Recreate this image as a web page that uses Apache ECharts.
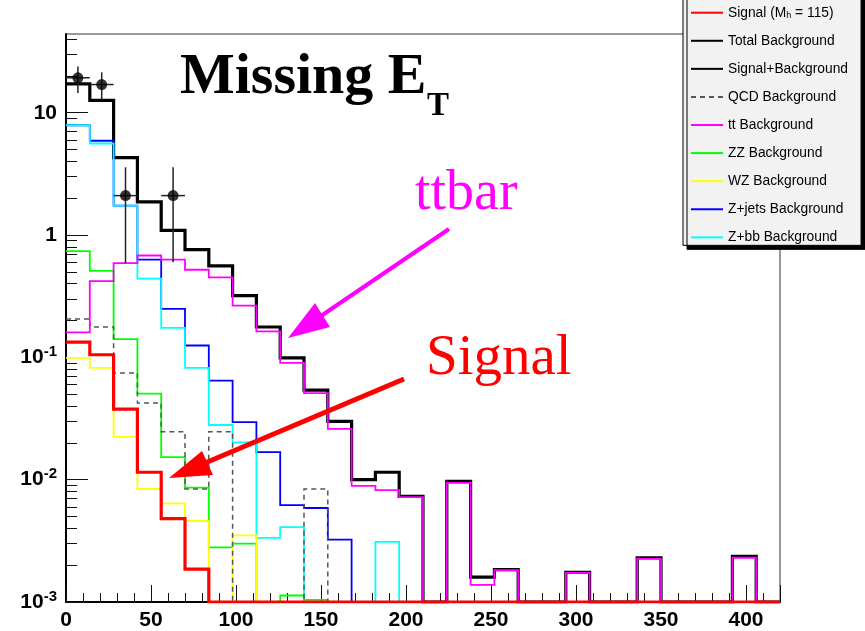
<!DOCTYPE html>
<html><head><meta charset="utf-8">
<script src="https://cdn.jsdelivr.net/npm/echarts@6/dist/echarts.min.js"></script>
<style>html,body{margin:0;padding:0;background:#fff}#c{width:865px;height:631px}</style>
</head><body><div id="c"></div>
<script>
// ---------- data ----------
const xMin = 0, xMax = 420, nBins = 30;
const yMin = 0.001, yMax = 44;
const xTickValues = [0, 50, 100, 150, 200, 250, 300, 350, 400];
const yTickValues = [0.001, 0.01, 0.1, 1, 10];
const yTickLabels = ['10^-3', '10^-2', '10^-1', '1', '10'];

const seriesNames = ['Signal (Mh = 115)', 'Total Background', 'Signal+Background', 'QCD Background',
  'tt Background', 'ZZ Background', 'WZ Background', 'Z+jets Background', 'Z+bb Background'];

const signal = [0.133, 0.105, 0.0378, 0.0115, 0.0048, 0.00186, 0, 0, 0, 0, 0, 0, 0, 0, 0, 0, 0, 0, 0, 0, 0, 0, 0, 0, 0, 0, 0, 0, 0, 0];
const totalBkg = [17.2, 12.6, 4.3, 1.87, 1.09, 0.76, 0.56, 0.32, 0.177, 0.099, 0.054, 0.030, 0.0100, 0.0115, 0.0073, 0, 0.0097, 0.0016, 0.00184, 0, 0, 0.00175, 0, 0, 0.0023, 0, 0, 0, 0.00236, 0];
const sigPlusBkg = [17.3, 12.7, 4.3, 1.88, 1.09, 0.76, 0.56, 0.32, 0.177, 0.099, 0.054, 0.030, 0.0100, 0.0115, 0.0073, 0, 0.0097, 0.0016, 0.00184, 0, 0, 0.00175, 0, 0, 0.0023, 0, 0, 0, 0.00236, 0];
const qcd = [0.206, 0.177, 0.0745, 0.0424, 0.0247, 0.0084, 0.0247, 0, 0, 0, 0.0084, 0, 0, 0, 0, 0, 0, 0, 0, 0, 0, 0, 0, 0, 0, 0, 0, 0, 0, 0];
const ttbar = [0.16, 0.42, 0.59, 0.68, 0.63, 0.52, 0.45, 0.265, 0.163, 0.090, 0.051, 0.026, 0.0089, 0.0082, 0.0072, 0, 0.0094, 0.00138, 0.00182, 0, 0, 0.00173, 0, 0, 0.00225, 0, 0, 0, 0.0023, 0];
const zz = [0.74, 0.51, 0.141, 0.0505, 0.0153, 0.0086, 0.0028, 0.0030, 0, 0.00113, 0.00104, 0, 0, 0, 0, 0, 0, 0, 0, 0, 0, 0, 0, 0, 0, 0, 0, 0, 0, 0];
const wz = [0.099, 0.082, 0.0224, 0.0084, 0.0064, 0.0046, 0, 0.0035, 0, 0, 0, 0, 0, 0, 0, 0, 0, 0, 0, 0, 0, 0, 0, 0, 0, 0, 0, 0, 0, 0];
const zjets = [7.9, 5.9, 1.74, 0.63, 0.249, 0.125, 0.0645, 0.0296, 0.0168, 0.0062, 0.00587, 0.00323, 0, 0, 0, 0, 0, 0, 0, 0, 0, 0, 0, 0, 0, 0, 0, 0, 0, 0];
const zbb = [7.9, 5.6, 1.74, 0.44, 0.174, 0.082, 0.028, 0.0202, 0.00334, 0.0041, 0, 0, 0, 0.0031, 0, 0, 0, 0, 0, 0, 0, 0, 0, 0, 0, 0, 0, 0, 0, 0];

const dataX = [7, 21, 35, 63];
const dataY = [19.3, 17.0, 2.1, 2.1];
const dataErrLow = [14.5, 12.8, 0.59, 0.60];
const dataErrHigh = [23.9, 21.4, 3.58, 3.58];

// ---------- build ----------
const binW = (xMax - xMin) / nBins;
function histData(vals) {
  const out = [];
  for (let i = 0; i < vals.length; i++) out.push([xMin + i * binW, Math.max(vals[i], yMin)]);
  out.push([xMax, Math.max(vals[vals.length - 1], yMin)]);
  return out;
}
const yMinorTicks = [];
for (let e = -3; e <= 1; e++) for (let m = 2; m <= 9; m++) {
  const v = +(m * Math.pow(10, e)).toPrecision(3);
  if (v < yMax) yMinorTicks.push(v);
}
function hist(name, vals, color, width, z, dashed) {
  return {
    name, type: 'line', step: 'end', data: histData(vals), symbol: 'none', z,
    lineStyle: { color, width, type: dashed ? [5, 4] : 'solid', cap: 'butt', join: 'miter' },
    itemStyle: { color }, clip: true, animation: false
  };
}
const FONT = 'Liberation Sans, Arial, sans-serif';
const SERIF = 'Liberation Serif, Times New Roman, serif';

const chart = echarts.init(document.getElementById('c'), null, { renderer: 'canvas' });
const option = {
  animation: false,
  backgroundColor: '#fff',
  grid: { left: 66, right: 85, top: 34, bottom: 29, show: true, borderColor: '#333', borderWidth: 1, backgroundColor: 'transparent' },
  xAxis: {
    type: 'value', min: xMin, max: xMax, interval: 50,
    axisLine: { show: true, onZero: false, lineStyle: { color: '#000', width: 2 } },
    axisTick: { inside: true, length: 17, lineStyle: { color: '#111', width: 1 } },
    minorTick: { show: true, splitNumber: 5, length: 9, lineStyle: { color: '#111', width: 1 } },
    splitLine: { show: false },
    axisLabel: { margin: 8, fontFamily: FONT, fontWeight: 'bold', fontSize: 21, color: '#000',
      customValues: xTickValues }
  },
  yAxis: [{
    type: 'log', logBase: 10, min: yMin, max: yMax,
    axisLine: { show: true, onZero: false, lineStyle: { color: '#000', width: 2 } },
    axisTick: { inside: true, length: 22, customValues: yTickValues, lineStyle: { color: '#111', width: 1 } },
    splitLine: { show: false },
    axisLabel: {
      customValues: yTickValues, margin: 9,
      formatter: function (v) {
        let idx = 0, best = 1e9;
        yTickValues.forEach((t, i) => { const d = Math.abs(Math.log10(t) - Math.log10(v)); if (d < best) { best = d; idx = i; } });
        const lab = yTickLabels[idx];
        if (lab.indexOf('^') >= 0) { const p = lab.split('^'); return '{b|' + p[0] + '}{s|' + p[1] + '}'; }
        return '{b|' + lab + '}';
      },
      rich: {
        b: { fontFamily: FONT, fontWeight: 'bold', fontSize: 21, lineHeight: 26, color: '#000' },
        s: { fontFamily: FONT, fontWeight: 'bold', fontSize: 15, lineHeight: 10, verticalAlign: 'top', color: '#000' }
      }
    }
  }, {
    type: 'log', logBase: 10, min: yMin, max: yMax, position: 'left',
    axisLine: { show: false },
    axisTick: { inside: true, length: 11, customValues: yMinorTicks, lineStyle: { color: '#111', width: 1 } },
    axisLabel: { show: false }, splitLine: { show: false }
  }],
  legend: {
    orient: 'vertical', left: 683, top: -14.3, padding: [20, 13, 1, 7],
    itemWidth: 32, itemHeight: 14, itemGap: 14.08,
    backgroundColor: '#f2f2f2', borderColor: '#000', borderWidth: 1,
    shadowColor: '#000', shadowBlur: 0, shadowOffsetX: 4, shadowOffsetY: 4,
    itemStyle: { opacity: 0 },
    data: seriesNames,
    formatter: function (name) {
      if (name === seriesNames[0]) return '{n|Signal (M}{h|h}{n| = 115)}';
      return name;
    },
    textStyle: { fontFamily: FONT, fontSize: 13.8, color: '#000', lineHeight: 14,
      rich: {
        n: { fontFamily: FONT, fontSize: 13.8, lineHeight: 14, color: '#000' },
        h: { fontFamily: FONT, fontSize: 9, lineHeight: 6, verticalAlign: 'bottom', color: '#000' }
      } }
  },
  series: [
    hist(seriesNames[1], totalBkg, '#000000', 3.2, 2),
    hist(seriesNames[2], sigPlusBkg, '#000000', 1, 3),
    hist(seriesNames[7], zjets, '#0000ff', 1.8, 4),
    hist(seriesNames[8], zbb, '#00ffff', 1.8, 5),
    hist(seriesNames[5], zz, '#00ff00', 1.8, 6),
    hist(seriesNames[6], wz, '#ffff00', 1.8, 7),
    hist(seriesNames[3], qcd, '#555555', 1.5, 8, true),
    hist(seriesNames[4], ttbar, '#ff00ff', 1.8, 9),
    hist(seriesNames[0], signal, '#ff0000', 3.2, 10),
    {
      name: 'DataErr', type: 'custom', z: 11, clip: true,
      data: dataX.map((x, i) => [x, dataY[i], dataErrLow[i], dataErrHigh[i]]),
      renderItem: function (params, api) {
        const x = api.value(0), y = api.value(1), lo = api.value(2), hi = api.value(3);
        const pLo = api.coord([x, lo]), pHi = api.coord([x, hi]);
        const pL = api.coord([x - binW / 2, y]), pR = api.coord([x + binW / 2, y]);
        return { type: 'group', children: [
          { type: 'line', shape: { x1: pLo[0], y1: pLo[1], x2: pHi[0], y2: pHi[1] }, style: { stroke: '#222', lineWidth: 1.5 } },
          { type: 'line', shape: { x1: pL[0], y1: pL[1], x2: pR[0], y2: pR[1] }, style: { stroke: '#222', lineWidth: 1.5 } }
        ] };
      }
    },
    {
      name: 'Data', type: 'scatter', z: 12, symbol: 'circle', symbolSize: 11,
      itemStyle: { color: '#000' },
      data: dataX.map((x, i) => [x, dataY[i]])
    }
  ],
  graphic: [
    { type: 'text', left: 180, top: 49, z: 50, style: { text: 'Missing E', fontFamily: SERIF, fontWeight: 'bold', fontSize: 58, fill: '#000' } },
    { type: 'text', left: 427, top: 90, z: 50, style: { text: 'T', fontFamily: SERIF, fontWeight: 'bold', fontSize: 33, fill: '#000' } },
    { type: 'text', left: 415, top: 166, z: 50, style: { text: 'ttbar', fontFamily: SERIF, fontSize: 56, fill: '#ff00ff' } },
    { type: 'text', left: 426, top: 331, z: 50, style: { text: 'Signal', fontFamily: SERIF, fontSize: 57, fill: '#ff0000' } },
    { type: 'line', z: 50, shape: { x1: 449, y1: 229, x2: 318, y2: 318 }, style: { stroke: '#ff00ff', lineWidth: 4 } },
    { type: 'polygon', z: 50, shape: { points: [[288, 338], [315, 303], [330, 327]] }, style: { fill: '#ff00ff' } },
    { type: 'line', z: 50, shape: { x1: 404, y1: 379, x2: 205, y2: 463 }, style: { stroke: '#ff0000', lineWidth: 5 } },
    { type: 'polygon', z: 50, shape: { points: [[169, 478], [202, 451], [213, 475]] }, style: { fill: '#ff0000' } }
  ]
};
chart.setOption(option);
</script></body></html>
